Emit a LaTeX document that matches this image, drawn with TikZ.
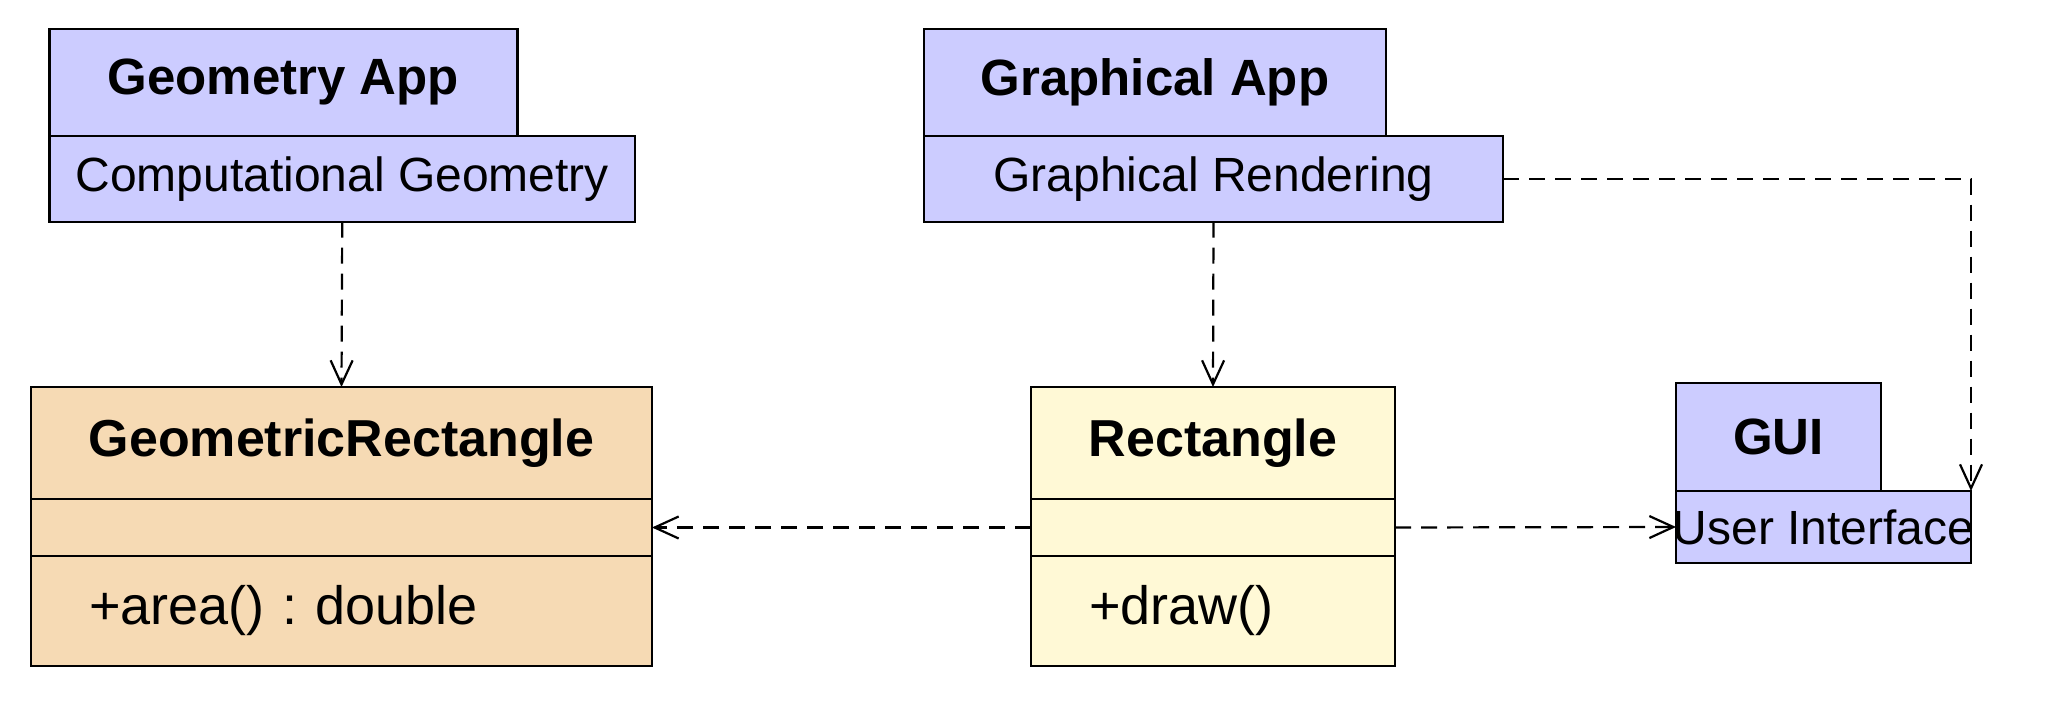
\documentclass[tikz,border=0pt]{standalone}
\usepackage{fontspec}
\setmainfont{Liberation Sans}
\usepackage{tikz}
\usetikzlibrary{shapes,positioning,arrows.meta}
\definecolor{pkgblue}{HTML}{CCCCFF}
\definecolor{wheatfill}{HTML}{F6DAB4}
\definecolor{chiffon}{HTML}{FFF9D6}
\frenchspacing

\begin{document}
\begin{tikzpicture}[x=0.5pt,y=-0.5pt]
    \tikzstyle{box}=[rectangle,draw,line width=1.1pt,outer sep=0pt,inner sep=0pt]
    \tikzstyle{pkgtab}=[box,fill=pkgblue,minimum height=53.5pt,font=\fontsize{25.5}{30}\selectfont\bfseries]
    \tikzstyle{pkgbody}=[box,fill=pkgblue,font=\fontsize{24}{29}\selectfont]
    \tikzstyle{ctitle}=[box,minimum height=56pt,font=\fontsize{26}{31}\selectfont\bfseries]
    \tikzstyle{cattr}=[box,minimum height=28.5pt]
    \tikzstyle{cops}=[box,inner xsep=29pt,minimum height=55pt,align=left,font=\fontsize{27}{32}\selectfont]
    \tikzstyle{dep}=[draw,line width=1.1pt,dash pattern=on 8pt off 5pt,-{Straight Barb[length=12pt,width=11pt]}]
    \useasboundingbox (0,0) rectangle (2045,715);
    \node[pkgtab,minimum width=234pt,anchor=north west] (geoapp) at (49.5,28.7) {Geometry App};
    \node[pkgbody,minimum width=292.75pt,minimum height=43pt,anchor=north west] (compgeo) at (geoapp.south west) {Computational Geometry};
    \node[pkgtab,minimum width=231pt,anchor=north west] (grapp) at (924,28.7) {Graphical App};
    \node[pkgbody,minimum width=289.5pt,minimum height=43pt,anchor=north west] (grrender) at (grapp.south west) {Graphical Rendering};
    \node[ctitle,fill=wheatfill,minimum width=310.5pt,anchor=north] (geotitle) at (341.5,387) {GeometricRectangle};
    \node[cattr,fill=wheatfill,minimum width=310.5pt,below=0pt of geotitle] (geoattr) {};
    \node[cops,fill=wheatfill,text width=252.5pt,below=0pt of geoattr] (geoops) {+area() : double};
    \node[ctitle,fill=chiffon,minimum width=182pt,anchor=north] (recttitle) at (1213,387) {Rectangle};
    \node[cattr,fill=chiffon,minimum width=182pt,below=0pt of recttitle] (rectattr) {};
    \node[cops,fill=chiffon,text width=124pt,below=0pt of rectattr] (rectops) {+draw()};
    \node[pkgtab,minimum width=102.5pt,minimum height=54pt,anchor=north west] (gui) at (1676,383) {GUI};
    \node[pkgbody,minimum width=147.5pt,minimum height=36pt,anchor=north west] (uibody) at (gui.south west) {\makebox[147.5pt]{User Interface}};
    \draw[dep] (compgeo.south) -- (geotitle.north);
    \draw[dep] (grrender.south) -- (recttitle.north);
    \draw[dep] (rectattr.west) -- (geoattr.east);
    \draw[dep] (rectattr.east) -- (uibody.west);
    \draw[dep] (grrender.east) -| (uibody.north east);
\end{tikzpicture}
\end{document}
